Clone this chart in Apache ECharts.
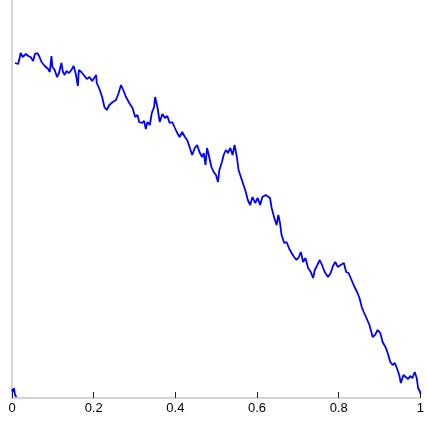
<!DOCTYPE html>
<html>
<head>
<meta charset="utf-8">
<script src="https://cdn.jsdelivr.net/npm/echarts@6/dist/echarts.min.js"></script>
<style>html,body{margin:0;padding:0;background:#fff;}#c{width:427px;height:422px;}</style>
</head>
<body>
<div id="c"></div>
<script>
var xTicks = ['0', '0.2', '0.4', '0.6', '0.8', '1'];

var pathX = [
0.0073,0.0114,0.0153,0.0212,0.026,0.0341,0.0397,0.0455,0.0518,0.056,0.0616,0.0664,0.0723,0.0803,0.0883,0.0925,0.0966,0.099,0.1046,0.1102,0.1151,0.1209,0.1248,0.129,0.1331,0.1394,0.1453,0.1509,0.1557,0.1613,0.1637,0.1696,0.1776,0.1832,0.1898,0.1964,0.2061,0.2075,0.2141,0.2207,0.2263,0.2319,0.2384,0.2465,0.2547,0.2611,0.2669,0.2725,0.2791,
0.2871,0.2951,0.3017,0.3073,0.3114,0.318,0.3236,0.3277,0.3316,0.3375,0.3406,0.3423,0.3479,0.3504,0.356,0.3618,0.3681,0.3747,0.3803,0.3861,0.3925,0.399,0.4046,0.4105,0.4168,0.4234,0.429,0.4348,0.4411,0.4477,0.4533,0.4591,0.4655,0.4696,0.4737,0.4776,0.4818,0.4883,0.4939,0.4995,0.5044,0.5078,0.5141,0.5182,0.5238,0.5287,0.5345,0.5401,0.545,0.5506,0.5547,0.5613,0.5669,0.5725,0.5774,0.5832,0.5888,0.5954,0.6017,0.6075,0.6131,
0.6212,0.626,0.6319,0.6358,0.6423,0.6479,0.6521,0.6562,0.6601,0.6667,0.6723,0.6781,0.6844,0.691,0.6966,0.7024,0.7073,0.7129,0.7185,0.7251,0.7316,0.7372,0.7414,0.7477,0.7535,0.7591,0.7657,0.7737,0.7803,0.7859,0.7915,0.798,0.8046,0.8127,0.8182,0.8241,0.8304,0.8387,0.845,0.8509,0.8564,
0.8613,0.8669,0.8752,0.8832,0.8888,0.8954,0.9019,0.9075,0.9156,0.9214,0.9263,0.9319,0.9375,0.9423,0.9482,0.9521,0.9586,0.9642,0.9701,0.9749,0.9805,0.9861,0.991,0.9944,0.9993,1.0
];

var pathY = [
335,337,334,345,341,344,342,341,337,344,345,342,336,332,329,326,342,331,328,321,325,335,326,323,327,325,328,332,325,312,328,326,322,319,321,317,323,315,309,301,291,288,293,296,298,305,313,308,301,
295,290,281,283,276,275,277,269,276,273,275,285,291,301,291,276,284,280,282,275,276,270,265,261,266,261,258,251,243,250,253,246,241,245,233,250,243,231,226,223,216,228,236,243,248,245,250,243,253,241,228,220,213,206,198,193,201,195,200,193,201,
203,205,200,190,180,173,183,175,163,155,156,150,145,141,138,141,146,136,140,130,126,120,128,133,138,133,126,121,125,132,136,131,133,135,126,125,119,111,106,100,91,
86,81,73,61,63,68,65,56,50,43,36,33,35,30,23,15,23,21,19,22,20,26,20,10,6,4
];

var blipX = [0, 0.0024, 0.0049, 0.0073, 0.0097, 0.011];
var blipY = [9, 6, 10, 3, 5, 1];

function pairs(xs, ys) {
  var out = [];
  for (var i = 0; i < xs.length; i++) out.push([xs[i], ys[i]]);
  return out;
}

var chart = echarts.init(document.getElementById('c'), null, {renderer: 'canvas'});
chart.setOption({
  animation: false,
  backgroundColor: '#ffffff',
  grid: {left: 12, right: 4, top: 0, bottom: 24, containLabel: false},
  xAxis: {
    type: 'value', min: 0, max: 1, interval: 0.2,
    axisLine: {show: true, lineStyle: {color: '#c8c8c8', width: 1.5}},
    axisTick: {show: true, inside: true, length: 6, lineStyle: {color: '#222222', width: 1}},
    axisLabel: {
      color: '#000000', fontSize: 13, fontFamily: 'Liberation Sans, Arial, sans-serif', margin: 4,
      formatter: function (v) { var i = Math.round(v / 0.2); return xTicks[i] !== undefined ? xTicks[i] : ''; }
    },
    splitLine: {show: false}
  },
  yAxis: {
    type: 'value', min: 0, max: 398,
    axisLine: {show: true, onZero: false, lineStyle: {color: '#c8c8c8', width: 1.5}},
    axisTick: {show: false},
    axisLabel: {show: false},
    splitLine: {show: false}
  },
  series: [
    {
      type: 'line', data: pairs(pathX, pathY), showSymbol: false, symbol: 'none',
      lineStyle: {color: '#0000ff', width: 1.8}, z: 3
    },
    {
      type: 'line', data: pairs(blipX, blipY), showSymbol: false, symbol: 'none',
      lineStyle: {color: '#0000ff', width: 1.8}, z: 3
    }
  ]
});
</script>
</body>
</html>
